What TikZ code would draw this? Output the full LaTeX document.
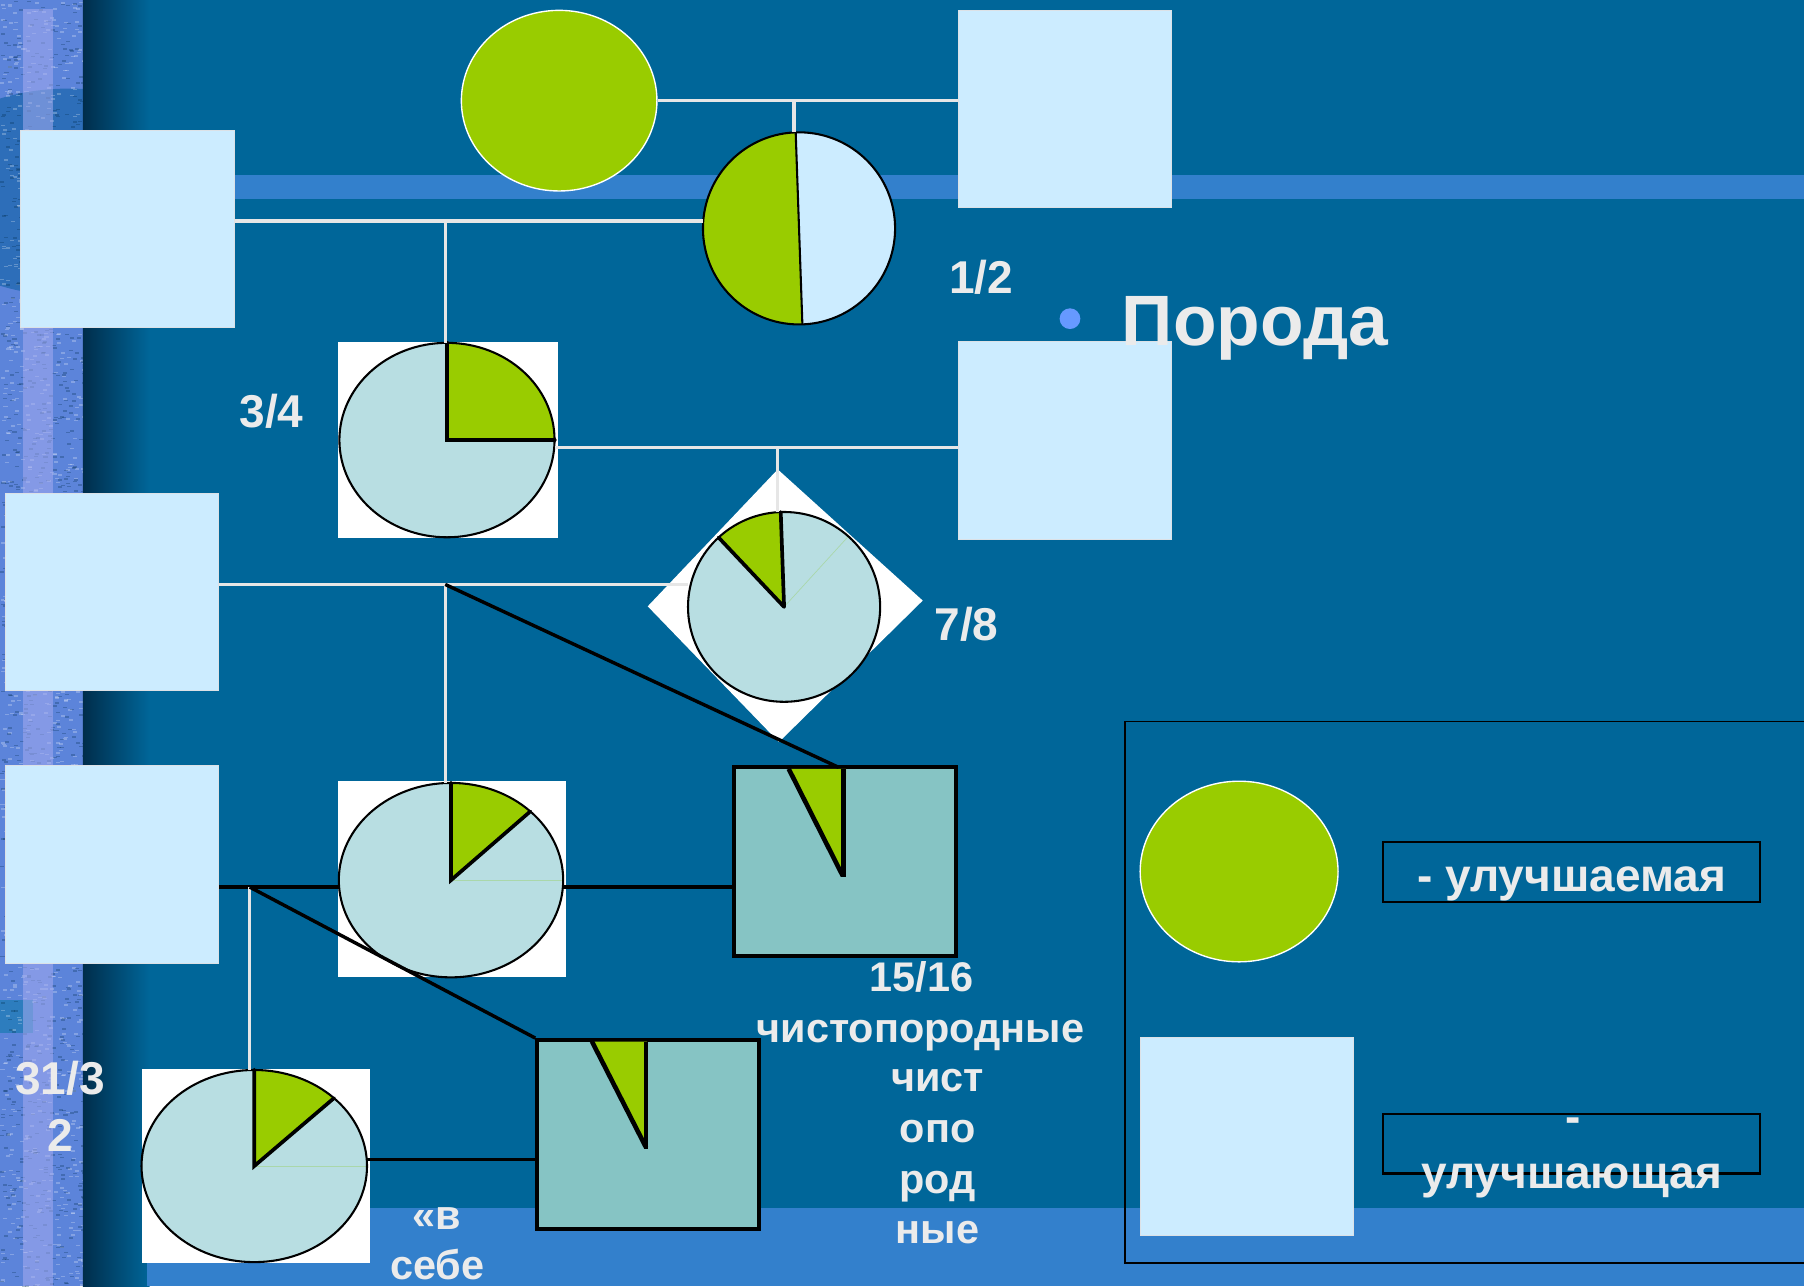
\documentclass[tikz,border=0pt]{standalone}
\usepackage{fontspec}
\setmainfont{Liberation Sans}
\usetikzlibrary{shapes.geometric,calc}
\definecolor{bg}{RGB}{0,102,153}
\definecolor{band}{RGB}{51,128,204}
\definecolor{leaf}{RGB}{153,204,0}
\definecolor{pale}{RGB}{204,236,255}
\definecolor{piefill}{RGB}{184,222,226}
\definecolor{tealc}{RGB}{134,196,196}
\definecolor{txt}{RGB}{235,235,235}
\definecolor{bul}{RGB}{102,153,255}
\definecolor{conn}{RGB}{230,230,230}
\definecolor{strip}{RGB}{92,132,218}
\definecolor{circ}{RGB}{45,110,185}
\definecolor{blk}{RGB}{45,125,190}
\definecolor{lav}{RGB}{165,172,240}
\definecolor{gradDark}{RGB}{0,45,75}
\definecolor{sqedge}{RGB}{220,225,230}
\definecolor{faintc}{RGB}{170,215,170}
\begin{document}
\begin{tikzpicture}[x=1pt,y=-1pt,
  sq/.style={rectangle, fill=pale, draw=sqedge, line width=0.8pt, inner sep=0pt},
  oval/.style={ellipse, fill=leaf, draw=white, line width=1.2pt, inner sep=0pt},
  piebg/.style={rectangle, fill=white, inner sep=0pt},
  pie/.style={ellipse, fill=piefill, inner sep=0pt},
  rim/.style={draw=black, line width=1.8pt},
  radial/.style={draw=black, line width=3.2pt, line cap=round},
  faint/.style={draw=faintc, line width=0.6pt},
  tealsq/.style={rectangle, fill=tealc, draw=black, line width=3.5pt, inner sep=0pt},
  wline/.style={draw=conn, line width=3pt},
  bline/.style={draw=black, line width=3pt},
  lbl/.style={text=txt, font=\bfseries\fontsize{40}{48}\selectfont, inner sep=0pt, anchor=base},
  slbl/.style={text=txt, font=\bfseries\fontsize{36}{44}\selectfont, inner sep=0pt, anchor=base},
  legbox/.style={rectangle, draw=black, line width=1.8pt, minimum width=328pt, minimum height=52pt, inner sep=0pt}
]
\useasboundingbox (0,0) rectangle (1568,1118);
\fill[bg] (0,0) rectangle (1568,1118);
% left textured strip
\begin{scope}
\clip (0,0) rectangle (72,1118);
\fill[strip] (0,0) rectangle (72,1118);
\fill[circ] (60,167) ellipse[x radius=140, y radius=90];
\fill[blk] (0,869) rectangle (29,898);
\pgfmathsetseed{11}
\foreach \i in {1,...,1100}{
  \pgfmathsetmacro{\rx}{rnd*72}
  \pgfmathsetmacro{\ry}{rnd*1118}
  \fill[white, opacity=0.25] (\rx,\ry) rectangle ++(3.5,1.3);
}
\foreach \i in {1,...,1100}{
  \pgfmathsetmacro{\rx}{rnd*72}
  \pgfmathsetmacro{\ry}{rnd*1118}
  \fill[gradDark, opacity=0.28] (\rx,\ry) rectangle ++(3.5,1.3);
}
\fill[lav, opacity=0.55] (20,8) rectangle (46,1118);
\end{scope}
\shade[left color=gradDark, right color=bg] (72,0) rectangle (130,1118);
% bands
\fill[band] (150,152) rectangle (1568,173);
\fill[band] (128,1050) rectangle (1568,1118);

% top row
\node[oval, minimum width=170pt, minimum height=157pt] (topE) at (486,87.5) {};
\node[sq, minimum width=185pt, minimum height=171pt] (sqTR) at (925.5,94.5) {};
\node[sq, minimum width=186pt, minimum height=172pt] (sqL1) at (111,199) {};
\node[pie, fill=pale, minimum width=167pt, minimum height=167pt] (p12) at (694.5,198.5) {};
\fill[leaf] (p12.center) ++(-92:83.5) arc[start angle=-92, end angle=-272, radius=83.5] -- cycle;
\draw[rim] ($(p12.center)+(-92:83.5)$) -- ($(p12.center)+(-272:83.5)$);
\draw[rim] (p12.center) circle[radius=83.5];

% 3/4
\node[piebg, minimum width=191pt, minimum height=171pt] (b34) at (389.5,382.5) {};
\node[pie, minimum width=187pt, minimum height=169pt] (p34) at (388.5,382.5) {};
\fill[leaf] (p34.center) -- (p34.north) arc[start angle=-90, end angle=0, x radius=93.5, y radius=84.5] -- cycle;
\draw[rim] (p34.center) ellipse[x radius=93.5, y radius=84.5];
\draw[radial] (p34.north) -- (p34.center) -- (p34.east);
\node[sq, minimum width=185pt, minimum height=172pt] (sqR2) at (925.5,383) {};

% 7/8
\fill[white] (676,408) -- (802,522) -- (677,645) -- (563,527) -- cycle;
\node[pie, minimum width=167pt, minimum height=165pt] (p78) at (681.5,527.5) {};
\fill[leaf] (p78.center) -- ++(-92:83.5 and 82.5) arc[start angle=-92, end angle=-133, x radius=83.5, y radius=82.5] -- cycle;
\draw[faint] (p78.center) -- ++(-48:83.5 and 82.5);
\draw[rim] (p78.center) ellipse[x radius=83.5, y radius=82.5];
\draw[radial] (p78.center) -- ++(-92:83.5 and 82.5);
\draw[radial] (p78.center) -- ++(-133:83.5 and 82.5);

% left squares
\node[sq, minimum width=185pt, minimum height=171pt] (sqL3) at (97.5,514.5) {};
\node[sq, minimum width=185pt, minimum height=172pt] (sqL4) at (97.5,751) {};

% row 4 pie
\node[piebg, minimum width=198pt, minimum height=170pt] (b4) at (393,764) {};
\node[pie, minimum width=195pt, minimum height=169pt] (p4) at (392,765) {};
\fill[leaf] (p4.center) -- (p4.north) arc[start angle=-90, end angle=-45, x radius=97.5, y radius=84.5] -- cycle;
\draw[faint] (p4.center) -- (p4.east);
\draw[rim] (p4.center) ellipse[x radius=97.5, y radius=84.5];
\draw[radial] (p4.north) -- (p4.center) -- ++(-45:97.5 and 84.5);

% row 4 teal square
\node[tealsq, minimum width=193pt, minimum height=164pt] (tq1) at (734.5,749) {};
\fill[leaf] ([shift={(-49,3)}]tq1.north) -- ([shift={(1,3)}]tq1.north) -- ([shift={(-1,97)}]tq1.north) -- cycle;
\draw[radial, line cap=butt, line width=4pt] ([shift={(-49,3)}]tq1.north) -- ([shift={(-2,96)}]tq1.north);
\draw[radial, line cap=butt, line width=4pt] ([shift={(-1.5,3)}]tq1.north) -- ([shift={(-1.5,97)}]tq1.north);

% row 5 pie
\node[piebg, minimum width=199pt, minimum height=169pt] (b5) at (222.5,1013.5) {};
\node[pie, minimum width=196pt, minimum height=167pt] (p5) at (221,1013.5) {};
\fill[leaf] (p5.center) -- (p5.north) arc[start angle=-90, end angle=-45, x radius=98, y radius=83.5] -- cycle;
\draw[faint] (p5.center) -- (p5.east);
\draw[rim] (p5.center) ellipse[x radius=98, y radius=83.5];
\draw[radial] (p5.north) -- (p5.center) -- ++(-45:98 and 83.5);

% row 5 teal square
\node[tealsq, minimum width=193pt, minimum height=164pt] (tq2) at (563.5,986) {};
\fill[leaf] ([shift={(-49,3)}]tq2.north) -- ([shift={(-1,3)}]tq2.north) -- ([shift={(-1,96)}]tq2.north) -- cycle;
\draw[radial, line cap=butt, line width=4pt] ([shift={(-49,3)}]tq2.north) -- ([shift={(-2,95)}]tq2.north);
\draw[radial, line cap=butt, line width=4pt] ([shift={(-2,3)}]tq2.north) -- ([shift={(-2,96)}]tq2.north);

% legend
\node[rectangle, draw=black, line width=1.5pt, minimum width=602pt, minimum height=471pt, inner sep=0pt] (legframe) at (1279,862.5) {};
\node[oval, minimum width=172pt, minimum height=157pt] (legE) at (1077,757.5) {};
\node[sq, minimum width=185pt, minimum height=172pt] (legS) at (1083.5,988) {};
\node[legbox] (lb1) at (1366,758) {};
\node[legbox] (lb2) at (1366,994) {};

% connectors
\coordinate (j1) at (690,88);
\draw[wline] (topE.east) -- (topE.east -| sqTR.west);
\draw[wline] (j1) -- (j1 |- p12.north);
\coordinate (j2) at (387,192);
\draw[wline] (j2 -| sqL1.east) -- (j2 -| p12.west);
\draw[wline] (j2) -- (j2 |- p34.north);
\coordinate (j3) at (676,389);
\draw[wline] (j3 -| p34.east) -- (j3 -| sqR2.west);
\draw[wline] (j3) -- (j3 |- p78.north);
\coordinate (j4) at (387,508);
\draw[wline] (j4 -| sqL3.east) -- (j4 -| p78.west);
\draw[wline] (j4) -- (j4 |- p4.north);
\coordinate (k1) at (729,667);
\draw[bline] (j4) -- (k1);
\coordinate (j5) at (217,771);
\draw[bline] (j5 -| sqL4.east) -- (j5 -| p4.west);
\draw[bline] (j5 -| p4.east) -- (j5 -| tq1.west);
\draw[wline] (j5) -- (j5 |- p5.north);
\draw[bline] (j5) -- (tq2.north west);
\coordinate (j6) at (320,1008);
\draw[bline] (j6 -| p5.east) -- (j6 -| tq2.west);

% texts
\node[circle, fill=bul, minimum size=18pt, inner sep=0pt] (bullet) at (930,277) {};
\node[text=txt, font=\bfseries\fontsize{62}{70}\selectfont, anchor=base west, inner sep=0pt] (poroda) at (975,300) {Порода};
\node[lbl] (t12) at (853,255) {1/2};
\node[lbl] (t34) at (236,372) {3/4};
\node[lbl] (t78) at (840,557) {7/8};
\node[lbl] (t31) at (52,951) {31/3};
\node[lbl] (t31b) at (52,1001) {2};
\node[slbl] (t1516) at (801,862) {15/16};
\node[slbl] (tch) at (800,906) {чистопородные};
\node[slbl] (tch1) at (815,949) {чист};
\node[slbl] (tch2) at (815,993) {опо};
\node[slbl] (tch3) at (815,1037) {род};
\node[slbl] (tch4) at (815,1081) {ные};
\node[slbl] (tvs1) at (380,1069) {«в};
\node[slbl] (tvs2) at (380,1112) {себе};
\node[lbl] (lt1) at (1366,775) {- улучшаемая};
\node[lbl] (lt2a) at (1367,984) {-};
\node[lbl] (lt2b) at (1366,1033) {улучшающая};
\end{tikzpicture}
\end{document}
